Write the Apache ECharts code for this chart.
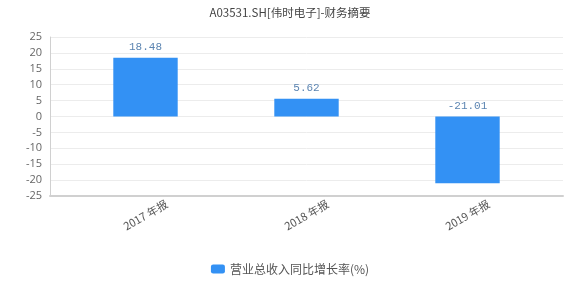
<!DOCTYPE html>
<html><head><meta charset="utf-8">
<script src="https://cdn.jsdelivr.net/npm/echarts@6/dist/echarts.min.js"></script>
<style>html,body{margin:0;padding:0;background:#fff}#c{width:580px;height:288px}</style>
</head><body><div id="c"></div>
<script>
var titleText = 'A03531.SH[伟时电子]-财务摘要';
var categories = ['2017 年报', '2018 年报', '2019 年报'];
var seriesName = '营业总收入同比增长率(%)';
var values = [18.48, 5.62, -21.01];
var yTicks = [-25, -20, -15, -10, -5, 0, 5, 10, 15, 20, 25];

var chart = echarts.init(document.getElementById('c'), null, {renderer: 'canvas'});
var yMin = yTicks[0], yMax = yTicks[yTicks.length - 1];
chart.setOption({
  backgroundColor: '#fff',
  animation: false,
  title: {
    text: titleText, left: 'center', top: 2,
    textStyle: {fontSize: 11.5, fontWeight: 'normal', color: '#444', fontFamily: 'Noto Sans CJK SC'}
  },
  legend: {
    data: [seriesName], bottom: 8, left: 'center',
    itemWidth: 14, itemHeight: 9, itemGap: 6,
    icon: 'roundRect',
    textStyle: {fontSize: 12, color: '#555', fontFamily: 'Noto Sans CJK SC'}
  },
  grid: [
    {left: 50, right: 17, top: 37, bottom: 92},
    {left: 65, right: 32, top: 37, bottom: 92}
  ],
  xAxis: [
    {gridIndex: 0, type: 'value', min: 0, max: 1, show: true,
     axisLine: {show: true, onZero: false, lineStyle: {color: '#d0d0d0', width: 2}},
     axisTick: {show: false}, axisLabel: {show: false}, splitLine: {show: false}},
    {gridIndex: 1, type: 'category', data: categories,
     axisLine: {show: false}, axisTick: {show: false},
     axisLabel: {rotate: 30, align: 'center', verticalAlign: 'middle', margin: 19,
       fontSize: 11, color: '#555', fontFamily: 'Noto Sans CJK SC'}}
  ],
  yAxis: [
    {gridIndex: 0, type: 'value', min: yMin, max: yMax, interval: 5,
     axisLine: {show: true, lineStyle: {color: '#d0d0d0', width: 1}},
     axisTick: {show: false},
     axisLabel: {fontSize: 11, color: '#666', margin: 8, fontFamily: 'Open Sans'},
     splitLine: {show: true, lineStyle: {color: '#ececec', width: 1}}},
    {gridIndex: 1, type: 'value', min: yMin, max: yMax, interval: 5, show: false,
     splitLine: {show: false}}
  ],
  series: [{
    name: seriesName, type: 'bar', xAxisIndex: 1, yAxisIndex: 1,
    data: values, barWidth: '40%',
    itemStyle: {color: '#3391f4'},
    label: {show: true, position: 'top', distance: 5,
      fontSize: 11, color: '#5b84b1', fontFamily: 'Liberation Mono',
      formatter: function (p) { return p.value.toFixed(2); }}
  }]
});
</script></body></html>
